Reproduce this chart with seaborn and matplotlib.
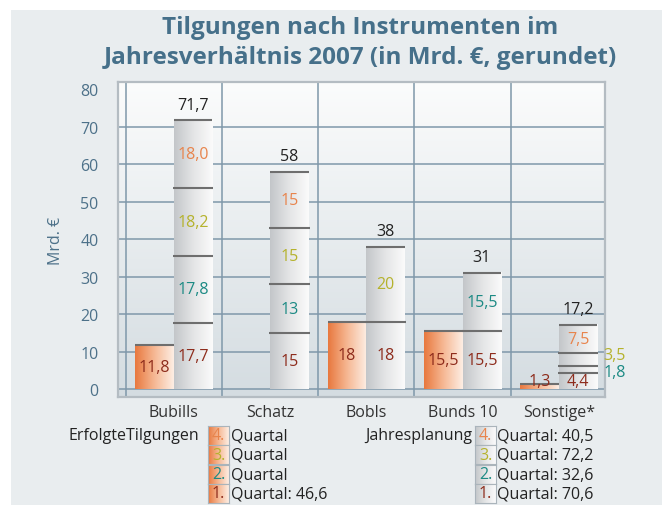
import numpy as np
import pandas as pd
import seaborn as sns
import matplotlib.pyplot as plt
from matplotlib.patches import Rectangle
from matplotlib.colors import LinearSegmentedColormap

# Data (Mrd. EUR)
categories = ["Bubills", "Schatz", "Bobls", "Bunds 10", "Sonstige*"]
erfolgt = [11.8, 0, 18, 15.5, 1.3]          # Erfolgte Tilgungen (1. Quartal)
plan_q1 = [17.7, 15, 18, 15.5, 4.4]          # Jahresplanung 1. Quartal
plan_q2 = [17.8, 13, 0, 15.5, 1.8]           # 2. Quartal
plan_q3 = [18.2, 15, 20, 0, 3.5]             # 3. Quartal
plan_q4 = [18.0, 15, 0, 0, 7.5]              # 4. Quartal
keep_decimal = [True, False, False, False, False]
legend_left = ["Quartal", "Quartal", "Quartal", "Quartal: 46,6"]
legend_right = ["Quartal: 40,5", "Quartal: 72,2", "Quartal: 32,6", "Quartal: 70,6"]

# colours
bg = "#e9edef"
blue = "#46708a"
q_colors = ["#8e2c1c", "#1c8a84", "#b5b22c", "#e8844c"]
orange_cmap = LinearSegmentedColormap.from_list("o", ["#e8783e", "#f6b894", "#fdeee4"])
grey_cmap = LinearSegmentedColormap.from_list("g", ["#c3c6c9", "#e4e5e6", "#fbfbfb"])
face_cmap = LinearSegmentedColormap.from_list("f", ["#d4dce1", "#fbfcfc"])


def fmt(v, keep=False):
    if keep or v != int(v):
        return f"{v:.1f}".replace(".", ",")
    return f"{int(v)}"


plan = np.array([plan_q1, plan_q2, plan_q3, plan_q4])
totals = plan.sum(axis=0)

df = pd.DataFrame({
    "cat": categories * 2,
    "serie": ["Erfolgt"] * 5 + ["Plan"] * 5,
    "val": list(erfolgt) + list(totals),
})

fig = plt.figure(figsize=(6.67, 5.06), dpi=100, facecolor="white")
fig.patches.append(Rectangle((11 / 667, -0.02), 651 / 667, 1.02 - 11 / 506, transform=fig.transFigure,
                             facecolor=bg, edgecolor="none", zorder=-10))
plt.rcParams["font.family"] = ["Open Sans", "DejaVu Sans"]

ax = fig.add_axes([118 / 667, 1 - 398 / 506, 487 / 667, 315 / 506])
sns.barplot(data=df, x="cat", y="val", hue="serie", dodge=True, width=0.8,
            palette=["#f0a070", "#dddddd"], legend=False, ax=ax, zorder=3)

# background gradient of the plotting area
grad = np.linspace(0, 1, 256).reshape(-1, 1)
ax.imshow(grad, extent=[0, 1, 0, 1], transform=ax.transAxes, aspect="auto",
          cmap=face_cmap, origin="lower", zorder=0)

# gradient fills for the bars
hgrad = np.linspace(0, 1, 256).reshape(1, -1)
for cont, cmap in zip(ax.containers, [orange_cmap, grey_cmap]):
    for p in cont.patches:
        if p.get_height() <= 0:
            continue
        x0, w, h = p.get_x(), p.get_width(), p.get_height()
        ax.imshow(hgrad, extent=[x0, x0 + w, 0, h], aspect="auto", cmap=cmap, zorder=3)
        p.set_facecolor("none")
        ax.hlines(h, x0, x0 + w, color="#6e6e6e", lw=1.5, zorder=4)

ax.set_xlim(-0.58, 4.48)
ax.set_ylim(-2.1, 81.9)

# orange bar labels
for i, p in enumerate(ax.containers[0].patches):
    v = erfolgt[i]
    if v <= 0:
        continue
    xc = p.get_x() + p.get_width() / 2
    ax.text(xc, max(v / 2, 2.2), fmt(v), ha="center", va="center", fontsize=11.5,
            color=q_colors[0], zorder=6)

# grey stacked bar separators and labels
for i, p in enumerate(ax.containers[1].patches):
    x0, w = p.get_x(), p.get_width()
    xc = x0 + w / 2
    cum = 0
    for q in range(4):
        v = plan[q, i]
        if v <= 0:
            continue
        if cum > 0:
            ax.hlines(cum, x0 - 0.01, x0 + w + 0.01, color="#6e6e6e", lw=1.5, zorder=4)
        if categories[i] == "Sonstige*" and q in (1, 2):
            ty = 4.6 if q == 1 else 9.2
            ax.text(x0 + w + 0.06, ty, fmt(v), ha="left", va="center", fontsize=11.5,
                    color=q_colors[q], zorder=6, clip_on=False)
        else:
            ax.text(xc, cum + v / 2, fmt(v, keep_decimal[i]), ha="center", va="center",
                    fontsize=11.5, color=q_colors[q], zorder=6)
        cum += v
    ax.text(xc, totals[i] + 4.2, fmt(round(totals[i], 1)), ha="center", va="center",
            fontsize=11.5, color="#222222", zorder=6)

# grid
ax.set_yticks(np.arange(0, 81, 10))
ax.set_xticks(np.arange(-0.5, 4.01, 0.5), minor=True)
ax.grid(which="minor", axis="x", color="#7f98aa", lw=1.1, zorder=1)
ax.grid(which="major", axis="y", color="#7f98aa", lw=1.1, zorder=1)
ax.get_ygridlines()[-1].set_visible(False)
ax.set_axisbelow(True)
ax.tick_params(axis="both", which="both", length=0)
ax.tick_params(axis="y", pad=14, labelsize=11.5, labelcolor="#4d7189")
ax.tick_params(axis="x", pad=5, labelsize=11.5, labelcolor="#333333")
ax.set_xlabel("")
ax.set_ylabel("Mrd. €", fontsize=11.5, color="#4d7189", labelpad=12)
for s in ax.spines.values():
    s.set_color("#b4bcc2")
    s.set_linewidth(1.6)

fig.text(360 / 667, 1 - 43 / 506, "Tilgungen nach Instrumenten im\nJahresverhältnis 2007 (in Mrd. €, gerundet)",
         ha="center", va="center", fontsize=17.5, fontweight="bold", color=blue, linespacing=1.3)


# legend
def swatch(px, py, cmap, num, col):
    a = fig.add_axes([px / 667, 1 - (py + 19) / 506, 21 / 667, 19 / 506])
    a.imshow(hgrad, aspect="auto", cmap=cmap, extent=[0, 1, 0, 1])
    a.set_xticks([])
    a.set_yticks([])
    for s in a.spines.values():
        s.set_color("#aab4bb")
    a.text(0.5, 0.5, num, ha="center", va="center", fontsize=11.5, color=col,
           transform=a.transAxes)


fig.text(68 / 667, 1 - 436 / 506, "ErfolgteTilgungen", ha="left", va="center", fontsize=11.5, color="#222222")
fig.text(365 / 667, 1 - 436 / 506, "Jahresplanung", ha="left", va="center", fontsize=11.5, color="#222222")
for r in range(4):
    py = 427 + r * 19.3
    q = 3 - r
    num = f"{q + 1}."
    swatch(208, py, orange_cmap, num, q_colors[q])
    swatch(475, py, grey_cmap, num, q_colors[q])
    fig.text(231 / 667, 1 - (py + 9.5) / 506, legend_left[r], ha="left", va="center",
             fontsize=11.5, color="#222222")
    fig.text(497 / 667, 1 - (py + 9.5) / 506, legend_right[r], ha="left", va="center",
             fontsize=11.5, color="#222222")

fig.savefig("out.png", dpi=100, facecolor=fig.get_facecolor())
